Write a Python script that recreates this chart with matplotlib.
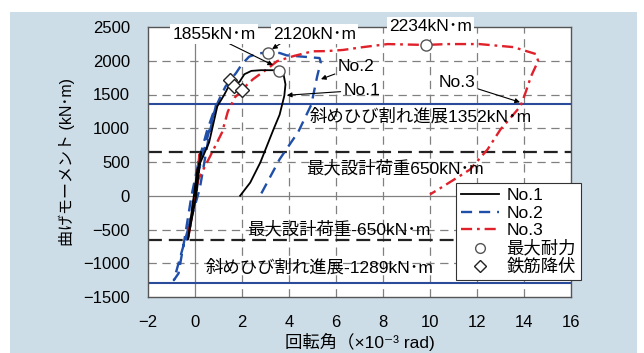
import matplotlib
matplotlib.use("Agg")
import matplotlib.pyplot as plt
from matplotlib.lines import Line2D
from matplotlib.patches import Rectangle

plt.rcParams['font.family'] = ['Liberation Sans', 'Noto Sans CJK JP', 'DejaVu Sans']
plt.rcParams['lines.scale_dashes'] = False
plt.rcParams['axes.unicode_minus'] = True

# ---------------- data ----------------
no1_x = [0, 0.25, 0.05, -0.3, -0.05, 0.1, 0.6, 0.95, 1.25, 1.4, 1.67, 1.9, 2.1, 2.4, 2.8, 3.3, 3.57,
         3.75, 3.85, 3.8, 3.6, 3.34, 2.78, 2.35, 1.92]
no1_y = [0, 650, 0, -650, 0, 390, 790, 1325, 1500, 1600, 1640, 1690, 1800, 1850, 1860, 1860, 1855,
         1830, 1650, 1480, 1200, 983, 493, 195, 0]

no2_x = [0, 0.25, 0.05, -0.35, -0.1, 0.1, 0.9, 0.6, 0.2, -0.3, -0.9, -0.7, -0.45, -0.15, 0.15, 0.5,
         0.8, 1.1, 1.3, 1.5, 1.75, 2.0, 2.3, 2.7, 3.1, 3.6, 3.9, 4.6, 5.3, 5.35, 5.2, 4.95, 4.4, 3.6, 2.77]
no2_y = [0, 650, 0, -650, -150, 300, 1352, 900, 100, -500, -1250, -1150, -650, 0, 500, 950,
         1250, 1480, 1620, 1710, 1820, 1950, 2060, 2110, 2120, 2115, 2080, 2060, 2040, 1980, 1770,
         1350, 950, 540, 0]

no3_x = [0, 0.2, 0, -0.3, -0.05, 0.15, 0.64, 1.15, 1.4, 1.7, 2.02, 2.2, 2.47, 3.06, 3.5, 4.2, 5.0,
         5.6, 6.3, 7.15, 8.2, 9.83, 10.7, 12.1, 13.55, 14.1, 14.5, 14.6, 14.5, 14.3, 14.07, 13.85,
         13.0, 12.45, 11.7, 10.55, 10.0]
no3_y = [0, 650, 0, -650, -100, 250, 582, 938, 1250, 1459, 1560, 1640, 1727, 1875, 1995, 2070, 2140,
         2143, 2160, 2202, 2247, 2234, 2247, 2247, 2202, 2143, 2100, 2000, 1920, 1770, 1533, 1325,
         983, 686, 388, 136, 20]

max_x = [3.57, 3.1, 9.83]
max_y = [1855, 2120, 2234]
yield_x = [1.5, 1.67, 2.02]
yield_y = [1710, 1620, 1560]

crack_levels = [1352, -1289]
design_levels = [650, -650]

xticks = [-2, 0, 2, 4, 6, 8, 10, 12, 14, 16]
yticks = [-1500, -1000, -500, 0, 500, 1000, 1500, 2000, 2500]
legend_labels = ['No.1', 'No.2', 'No.3', '最大耐力', '鉄筋降伏']

# ---------------- figure ----------------
fig = plt.figure(figsize=(6.44, 3.53), dpi=100, facecolor='white')
fig.patches.append(Rectangle((10 / 644, 0), 627 / 644, 341 / 353, transform=fig.transFigure,
                             facecolor='#cddde8', edgecolor='none', zorder=-10))
ax = fig.add_axes([148 / 644, 1 - 297 / 353, 423 / 644, 270 / 353])
ax.set_facecolor('white')
ax.set_xlim(-2, 16)
ax.set_ylim(-1500, 2500)
ax.set_xticks(xticks)
ax.set_yticks(yticks)
ax.tick_params(length=0, labelsize=12, pad=13)
for s in ax.spines.values():
    s.set_color('#555555')
    s.set_linewidth(1.0)

# grid
for xv in xticks[1:-1]:
    if xv == 0:
        ax.axvline(xv, color='#808080', lw=0.9, zorder=1)
    else:
        ax.axvline(xv, color='#808080', lw=0.9, dashes=(6, 4), zorder=1)
for yv in yticks[1:-1]:
    if yv == 0:
        ax.axhline(yv, color='#808080', lw=0.9, zorder=1)
    else:
        ax.axhline(yv, color='#808080', lw=0.9, dashes=(6, 4), zorder=1)

for lv in crack_levels:
    ax.axhline(lv, color='#2a4a9a', lw=1.5, zorder=2)
for lv in design_levels:
    ax.axhline(lv, color='#222222', lw=1.6, dashes=(10, 5), zorder=2)

ax.plot(no1_x, no1_y, color='black', lw=1.3, zorder=4)
ax.plot(no2_x, no2_y, color='#1f4fa8', lw=1.7, dashes=(8, 5), zorder=3)
ax.plot(no3_x, no3_y, color='#e0202a', lw=1.7, dashes=(8, 3.5, 2, 3.5), zorder=3)

ax.plot(max_x, max_y, 'o', ms=8, mfc='white', mec='#555555', mew=1.0, zorder=6)
ax.plot(yield_x, yield_y, 'D', ms=7, mfc='white', mec='#222222', mew=1.0, zorder=6)

# text
fs = 12.5
ax.text(9.6, 1177, '斜めひび割れ進展1352kN･m', fontsize=fs, ha='center', va='center', zorder=7)
ax.text(8.5, 403, '最大設計荷重650kN･m', fontsize=fs, ha='center', va='center', zorder=7)
ax.text(6.13, -489, '最大設計荷重-650kN･m', fontsize=fs, ha='center', va='center', zorder=7)
ax.text(5.32, -1061, '斜めひび割れ進展-1289kN･m', fontsize=fs, ha='center', va='center', zorder=7)

wb = dict(facecolor='white', edgecolor='none', pad=1.5)
for tx, ty, s in [(0.81, 2396, '1855kN･m'), (5.1, 2396, '2120kN･m'), (10.04, 2507, '2234kN･m')]:
    ax.text(tx, ty, s, fontsize=fs, ha='center', va='center', bbox=wb, zorder=8, clip_on=False)

ap = dict(arrowstyle='-|>', color='black', lw=0.8, mutation_scale=7, shrinkA=0, shrinkB=0)
ax.annotate('', xy=(3.32, 1935), xytext=(1.32, 2277), arrowprops=ap, zorder=7)
ax.annotate('', xy=(3.28, 2173), xytext=(3.74, 2277), arrowprops=ap, zorder=7)
ax.annotate('No.2', xy=(5.36, 1727), xytext=(6.85, 1920), fontsize=fs, ha='center', va='center',
            arrowprops=ap, zorder=7)
ax.annotate('No.1', xy=(3.91, 1489), xytext=(7.1, 1563), fontsize=fs, ha='center', va='center',
            arrowprops=ap, zorder=7)
ax.annotate('No.3', xy=(13.83, 1385), xytext=(11.15, 1682), fontsize=fs, ha='center', va='center',
            arrowprops=ap, zorder=7)

ax.set_ylabel('曲げモーメント (kN･m)', fontsize=11.5, labelpad=6)
ax.set_xlabel('回転角（×10⁻³ rad)', fontsize=12.5, labelpad=2)

handles = [
    Line2D([], [], color='black', lw=1.3),
    Line2D([], [], color='#1f4fa8', lw=1.7, dashes=(8, 5)),
    Line2D([], [], color='#e0202a', lw=1.7, dashes=(8, 3.5, 2, 3.5)),
    Line2D([], [], ls='none', marker='o', ms=7, mfc='white', mec='#555555'),
    Line2D([], [], ls='none', marker='D', ms=6, mfc='white', mec='#222222'),
]
leg = ax.legend(handles, legend_labels, loc='upper left', bbox_to_anchor=(0.728, 0.422),
                borderaxespad=0, fancybox=False, edgecolor='#333333', framealpha=1,
                fontsize=12.5, labelspacing=0.12, borderpad=0.3, handlelength=2.2,
                handletextpad=0.4)
leg.get_frame().set_linewidth(0.8)
leg.set_zorder(10)

fig.savefig('out.png', dpi=100, facecolor=fig.get_facecolor())
